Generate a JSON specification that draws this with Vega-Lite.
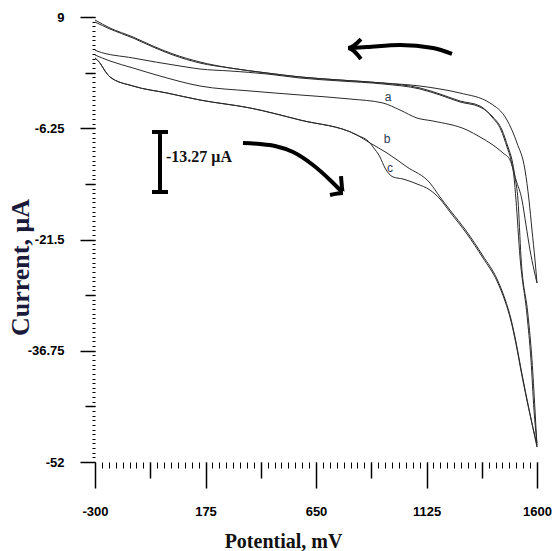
{
  "$schema": "https://vega.github.io/schema/vega-lite/v6.json",
  "width": 442,
  "height": 445,
  "autosize": {"type": "none"},
  "padding": {"left": 95, "top": 17, "right": 17, "bottom": 89},
  "background": "white",
  "config": {"view": {"stroke": null}},
  "resolve": {"axis": {"x": "independent", "y": "independent"}},
  "datasets": {
    "curves": [
      {"s":"a_fwd","i":1,"x":-300,"y":3.79},{"s":"a_fwd","i":2,"x":-235.5,"y":2.97},{"s":"a_fwd","i":3,"x":-136.7,"y":2.01},{"s":"a_fwd","i":4,"x":-20.6,"y":0.91},{"s":"a_fwd","i":5,"x":151.4,"y":-0.46},{"s":"a_fwd","i":6,"x":366.3,"y":-1.14},{"s":"a_fwd","i":7,"x":581.2,"y":-1.69},{"s":"a_fwd","i":8,"x":796.1,"y":-2.24},{"s":"a_fwd","i":9,"x":938.0,"y":-2.79},{"s":"a_fwd","i":10,"x":1011.1,"y":-3.75},{"s":"a_fwd","i":11,"x":1084.2,"y":-4.85},{"s":"a_fwd","i":12,"x":1152.9,"y":-5.26},{"s":"a_fwd","i":13,"x":1299.1,"y":-6.49},{"s":"a_fwd","i":14,"x":1355.0,"y":-7.45},{"s":"a_fwd","i":15,"x":1410.8,"y":-8.55},{"s":"a_fwd","i":16,"x":1453.8,"y":-9.64},{"s":"a_fwd","i":17,"x":1483.9,"y":-10.6},{"s":"a_fwd","i":18,"x":1509.7,"y":-13.34},{"s":"a_fwd","i":19,"x":1535.5,"y":-16.09},{"s":"a_fwd","i":20,"x":1552.7,"y":-19.51},{"s":"a_fwd","i":21,"x":1569.9,"y":-22.94},{"s":"a_fwd","i":22,"x":1587.1,"y":-25.68},{"s":"a_fwd","i":23,"x":1600,"y":-27.46},
      {"s":"a_rev","i":1,"x":1600,"y":-27.46},{"s":"a_rev","i":2,"x":1591.4,"y":-24.31},{"s":"a_rev","i":3,"x":1578.5,"y":-20.2},{"s":"a_rev","i":4,"x":1565.6,"y":-16.09},{"s":"a_rev","i":5,"x":1548.4,"y":-11.97},{"s":"a_rev","i":6,"x":1514.0,"y":-8.27},{"s":"a_rev","i":7,"x":1471.0,"y":-5.12},{"s":"a_rev","i":8,"x":1397.9,"y":-2.79},{"s":"a_rev","i":9,"x":1269.0,"y":-1.42},{"s":"a_rev","i":10,"x":1183.0,"y":-0.87},{"s":"a_rev","i":11,"x":1097.0,"y":-0.46},{"s":"a_rev","i":12,"x":938.0,"y":-0.05},{"s":"a_rev","i":13,"x":753.2,"y":0.36},{"s":"a_rev","i":14,"x":581.2,"y":0.78},{"s":"a_rev","i":15,"x":439.4,"y":1.32},{"s":"a_rev","i":16,"x":280.3,"y":2.01},{"s":"a_rev","i":17,"x":151.4,"y":2.83},{"s":"a_rev","i":18,"x":35.3,"y":3.93},{"s":"a_rev","i":19,"x":-50.7,"y":5.02},{"s":"a_rev","i":20,"x":-136.7,"y":6.26},{"s":"a_rev","i":21,"x":-235.5,"y":7.49},{"s":"a_rev","i":22,"x":-300,"y":8.59},
      {"s":"b_fwd","i":1,"x":-300,"y":3.38},{"s":"b_fwd","i":2,"x":-278.5,"y":2.69},{"s":"b_fwd","i":3,"x":-257.0,"y":1.6},{"s":"b_fwd","i":4,"x":-235.5,"y":0.78},{"s":"b_fwd","i":5,"x":-136.7,"y":-0.46},{"s":"b_fwd","i":6,"x":9.5,"y":-1.42},{"s":"b_fwd","i":7,"x":151.4,"y":-2.38},{"s":"b_fwd","i":8,"x":366.3,"y":-3.47},{"s":"b_fwd","i":9,"x":581.2,"y":-5.12},{"s":"b_fwd","i":10,"x":826.2,"y":-7.18},{"s":"b_fwd","i":11,"x":882.1,"y":-8.27},{"s":"b_fwd","i":12,"x":955.2,"y":-9.64},{"s":"b_fwd","i":13,"x":1041.2,"y":-11.56},{"s":"b_fwd","i":14,"x":1140.0,"y":-13.76},{"s":"b_fwd","i":15,"x":1183.0,"y":-15.67},{"s":"b_fwd","i":16,"x":1226.0,"y":-17.46},{"s":"b_fwd","i":17,"x":1299.1,"y":-20.47},{"s":"b_fwd","i":18,"x":1367.9,"y":-23.76},{"s":"b_fwd","i":19,"x":1428.0,"y":-26.91},{"s":"b_fwd","i":20,"x":1462.4,"y":-29.66},{"s":"b_fwd","i":21,"x":1488.2,"y":-32.4},{"s":"b_fwd","i":22,"x":1509.7,"y":-35.55},{"s":"b_fwd","i":23,"x":1535.5,"y":-39.94},{"s":"b_fwd","i":24,"x":1565.6,"y":-44.74},{"s":"b_fwd","i":25,"x":1600,"y":-49.95},
      {"s":"c_fwd","i":1,"x":-300,"y":3.38},{"s":"c_fwd","i":2,"x":-278.5,"y":2.69},{"s":"c_fwd","i":3,"x":-257.0,"y":1.6},{"s":"c_fwd","i":4,"x":-235.5,"y":0.78},{"s":"c_fwd","i":5,"x":-136.7,"y":-0.46},{"s":"c_fwd","i":6,"x":9.5,"y":-1.42},{"s":"c_fwd","i":7,"x":151.4,"y":-2.38},{"s":"c_fwd","i":8,"x":366.3,"y":-3.47},{"s":"c_fwd","i":9,"x":581.2,"y":-5.12},{"s":"c_fwd","i":10,"x":826.2,"y":-7.18},{"s":"c_fwd","i":11,"x":882.1,"y":-8.27},{"s":"c_fwd","i":12,"x":895.0,"y":-8.82},{"s":"c_fwd","i":13,"x":925.1,"y":-10.19},{"s":"c_fwd","i":14,"x":946.6,"y":-11.7},{"s":"c_fwd","i":15,"x":981.0,"y":-12.93},{"s":"c_fwd","i":16,"x":1024.0,"y":-13.21},{"s":"c_fwd","i":17,"x":1084.2,"y":-13.89},{"s":"c_fwd","i":18,"x":1140.0,"y":-14.72},{"s":"c_fwd","i":19,"x":1183.0,"y":-15.95},{"s":"c_fwd","i":20,"x":1226.0,"y":-17.73},{"s":"c_fwd","i":21,"x":1299.1,"y":-20.75},{"s":"c_fwd","i":22,"x":1367.9,"y":-24.04},{"s":"c_fwd","i":23,"x":1428.0,"y":-27.19},{"s":"c_fwd","i":24,"x":1462.4,"y":-29.93},{"s":"c_fwd","i":25,"x":1488.2,"y":-32.67},{"s":"c_fwd","i":26,"x":1509.7,"y":-35.83},{"s":"c_fwd","i":27,"x":1535.5,"y":-40.21},{"s":"c_fwd","i":28,"x":1565.6,"y":-44.87},{"s":"c_fwd","i":29,"x":1600,"y":-49.67},
      {"s":"b_rev","i":1,"x":1600,"y":-49.95},{"s":"b_rev","i":2,"x":1591.4,"y":-44.87},{"s":"b_rev","i":3,"x":1578.5,"y":-38.02},{"s":"b_rev","i":4,"x":1561.3,"y":-31.85},{"s":"b_rev","i":5,"x":1531.2,"y":-23.9},{"s":"b_rev","i":6,"x":1518.3,"y":-16.09},{"s":"b_rev","i":7,"x":1505.4,"y":-12.93},{"s":"b_rev","i":8,"x":1492.5,"y":-10.6},{"s":"b_rev","i":9,"x":1475.3,"y":-8.82},{"s":"b_rev","i":10,"x":1449.5,"y":-6.49},{"s":"b_rev","i":11,"x":1410.8,"y":-4.71},{"s":"b_rev","i":12,"x":1355.0,"y":-3.34},{"s":"b_rev","i":13,"x":1269.0,"y":-2.65},{"s":"b_rev","i":14,"x":1183.0,"y":-1.69},{"s":"b_rev","i":15,"x":1097.0,"y":-0.87},{"s":"b_rev","i":16,"x":938.0,"y":-0.18},{"s":"b_rev","i":17,"x":753.2,"y":0.23},{"s":"b_rev","i":18,"x":581.2,"y":0.64},{"s":"b_rev","i":19,"x":439.4,"y":1.19},{"s":"b_rev","i":20,"x":280.3,"y":1.6},{"s":"b_rev","i":21,"x":151.4,"y":1.87},{"s":"b_rev","i":22,"x":65.4,"y":2.28},{"s":"b_rev","i":23,"x":-136.7,"y":3.38},{"s":"b_rev","i":24,"x":-291.4,"y":4.34},{"s":"b_rev","i":25,"x":-300,"y":4.48},
      {"s":"c_rev","i":1,"x":1600,"y":-49.4},{"s":"c_rev","i":2,"x":1587.1,"y":-44.87},{"s":"c_rev","i":3,"x":1574.2,"y":-38.02},{"s":"c_rev","i":4,"x":1557.0,"y":-31.85},{"s":"c_rev","i":5,"x":1526.9,"y":-23.9},{"s":"c_rev","i":6,"x":1509.7,"y":-16.09},{"s":"c_rev","i":7,"x":1501.1,"y":-12.93},{"s":"c_rev","i":8,"x":1488.2,"y":-10.6},{"s":"c_rev","i":9,"x":1471.0,"y":-8.82},{"s":"c_rev","i":10,"x":1445.2,"y":-6.49},{"s":"c_rev","i":11,"x":1406.5,"y":-4.71},{"s":"c_rev","i":12,"x":1355.0,"y":-3.2},{"s":"c_rev","i":13,"x":1269.0,"y":-2.51},{"s":"c_rev","i":14,"x":1183.0,"y":-1.56},{"s":"c_rev","i":15,"x":1097.0,"y":-0.73},{"s":"c_rev","i":16,"x":938.0,"y":-0.05},{"s":"c_rev","i":17,"x":753.2,"y":0.36},{"s":"c_rev","i":18,"x":581.2,"y":0.78},{"s":"c_rev","i":19,"x":439.4,"y":1.32},{"s":"c_rev","i":20,"x":280.3,"y":2.01},{"s":"c_rev","i":21,"x":151.4,"y":2.69},{"s":"c_rev","i":22,"x":35.3,"y":3.79},{"s":"c_rev","i":23,"x":-50.7,"y":4.89},{"s":"c_rev","i":24,"x":-136.7,"y":6.12},{"s":"c_rev","i":25,"x":-235.5,"y":7.35},{"s":"c_rev","i":26,"x":-300,"y":8.31}
    ],
    "arrows": [
      {"p":"top_body","i":1,"x":1234.6,"y":3.93},{"p":"top_body","i":2,"x":1152.9,"y":4.75},{"p":"top_body","i":3,"x":1011.1,"y":5.16},{"p":"top_body","i":4,"x":869.2,"y":4.89},{"p":"top_body","i":5,"x":796.1,"y":4.75},
      {"p":"top_head","i":1,"x":843.4,"y":5.98},{"p":"top_head","i":2,"x":787.5,"y":4.75},{"p":"top_head","i":3,"x":843.4,"y":3.24},
      {"p":"low_body","i":1,"x":336.2,"y":-8.27},{"p":"low_body","i":2,"x":409.3,"y":-8.41},{"p":"low_body","i":3,"x":473.7,"y":-8.68},{"p":"low_body","i":4,"x":551.1,"y":-9.51},{"p":"low_body","i":5,"x":637.1,"y":-11.29},{"p":"low_body","i":6,"x":710.2,"y":-13.34},{"p":"low_body","i":7,"x":761.8,"y":-14.99},
      {"p":"low_head","i":1,"x":757.5,"y":-12.8},{"p":"low_head","i":2,"x":766.1,"y":-15.13},{"p":"low_head","i":3,"x":710.2,"y":-15.4}
    ],
    "bar": [
      {"x":-20.6,"y":-6.76,"x2":-20.6,"y2":-14.99},
      {"x":-55.0,"y":-6.76,"x2":13.8,"y2":-6.76},
      {"x":-55.0,"y":-14.99,"x2":13.8,"y2":-14.99}
    ],
    "letters": [
      {"t":"a","x":959.5,"y":-1.97},
      {"t":"b","x":955.2,"y":-7.72},
      {"t":"c","x":968.1,"y":-11.7}
    ],
    "note": [
      {"t":"-13.27 μA","x":5.2,"y":-10.19}
    ]
  },
  "layer": [
    {
      "data": {"name": "curves"},
      "mark": {"type": "line", "color": "#2a2a2a", "strokeWidth": 1, "interpolate": "monotone"},
      "encoding": {
        "x": {
          "field": "x", "type": "quantitative",
          "scale": {"domain": [-300, 1600], "nice": false, "zero": false},
          "axis": {
            "orient": "bottom",
            "title": "Potential, mV",
            "values": [-300, 175, 650, 1125, 1600],
            "domain": false, "grid": false,
            "tickColor": "#000", "tickWidth": 1.5, "tickSize": 26,
            "labelExpr": "'' + datum.value",
            "labelOverlap": false, "labelFlush": false, "labelBound": false,
            "labelFont": "Liberation Sans", "labelFontWeight": "bold", "labelFontSize": 13, "labelColor": "#000",
            "labelPadding": 17,
            "titleFont": "Liberation Serif", "titleFontWeight": "bold", "titleFontSize": 20, "titleColor": "#111",
            "titleX": 188, "titleY": 79, "titleBaseline": "middle", "titleAlign": "center"
          }
        },
        "y": {
          "field": "y", "type": "quantitative",
          "scale": {"domain": [-52, 9], "nice": false, "zero": false},
          "axis": {
            "orient": "left",
            "title": "Current, μA",
            "values": [-52, -36.75, -21.5, -6.25, 9],
            "domain": false, "grid": false,
            "tickColor": "#000", "tickWidth": 1.5, "tickSize": 15,
            "labelExpr": "'' + datum.value",
            "labelOverlap": false, "labelFlush": false, "labelBound": false,
            "labelFont": "Liberation Sans", "labelFontWeight": "bold", "labelFontSize": 13, "labelColor": "#000",
            "labelPadding": 16,
            "titleFont": "Liberation Serif", "titleFontWeight": "bold", "titleFontSize": 26, "titleColor": "#1a1a3a",
            "titleX": -75, "titleY": 250, "titleBaseline": "middle", "titleAlign": "center", "titleAngle": -90
          }
        },
        "detail": {"field": "s"},
        "order": {"field": "i", "type": "quantitative"}
      }
    },
    {
      "data": {"name": "arrows"},
      "mark": {"type": "line", "color": "#000", "strokeWidth": 4, "interpolate": "monotone", "strokeCap": "butt", "strokeJoin": "miter"},
      "encoding": {
        "x": {"field": "x", "type": "quantitative", "axis": {"orient": "bottom", "values": [-62.5, 412.5, 887.5, 1362.5], "domain": false, "grid": false, "labels": false, "title": null, "tickColor": "#000", "tickWidth": 1.5, "tickSize": 16}},
        "y": {"field": "y", "type": "quantitative", "axis": {"orient": "left", "values": [-44.375, -29.125, -13.875, 1.375], "domain": false, "grid": false, "labels": false, "title": null, "tickColor": "#000", "tickWidth": 1.5, "tickSize": 10}},
        "detail": {"field": "p"},
        "order": {"field": "i", "type": "quantitative"}
      }
    },
    {
      "data": {"name": "bar"},
      "mark": {"type": "rule", "color": "#000", "strokeWidth": 4},
      "encoding": {
        "x": {"field": "x", "type": "quantitative", "axis": {"orient": "bottom", "values": [-300,-270.3125,-240.625,-210.9375,-181.25,-151.5625,-121.875,-92.1875,-62.5,-32.8125,-3.125,26.5625,56.25,85.9375,115.625,145.3125,175,204.6875,234.375,264.0625,293.75,323.4375,353.125,382.8125,412.5,442.1875,471.875,501.5625,531.25,560.9375,590.625,620.3125,650,679.6875,709.375,739.0625,768.75,798.4375,828.125,857.8125,887.5,917.1875,946.875,976.5625,1006.25,1035.9375,1065.625,1095.3125,1125,1154.6875,1184.375,1214.0625,1243.75,1273.4375,1303.125,1332.8125,1362.5,1392.1875,1421.875,1451.5625,1481.25,1510.9375,1540.625,1570.3125,1600], "domain": false, "grid": false, "labels": false, "title": null, "tickColor": "#000", "tickWidth": 1, "tickSize": 6}},
        "y": {"field": "y", "type": "quantitative", "axis": {"orient": "left", "values": [-52,-51.3646,-50.7292,-50.0938,-49.4583,-48.8229,-48.1875,-47.5521,-46.9167,-46.2813,-45.6458,-45.0104,-44.375,-43.7396,-43.1042,-42.4688,-41.8333,-41.1979,-40.5625,-39.9271,-39.2917,-38.6563,-38.0208,-37.3854,-36.75,-36.1146,-35.4792,-34.8438,-34.2083,-33.5729,-32.9375,-32.3021,-31.6667,-31.0313,-30.3958,-29.7604,-29.125,-28.4896,-27.8542,-27.2188,-26.5833,-25.9479,-25.3125,-24.6771,-24.0417,-23.4063,-22.7708,-22.1354,-21.5,-20.8646,-20.2292,-19.5938,-18.9583,-18.3229,-17.6875,-17.0521,-16.4167,-15.7813,-15.1458,-14.5104,-13.875,-13.2396,-12.6042,-11.9688,-11.3333,-10.6979,-10.0625,-9.4271,-8.7917,-8.1563,-7.5208,-6.8854,-6.25,-5.6146,-4.9792,-4.3438,-3.7083,-3.0729,-2.4375,-1.8021,-1.1667,-0.5313,0.1042,0.7396,1.375,2.0104,2.6458,3.2813,3.9167,4.5521,5.1875,5.8229,6.4583,7.0938,7.7292,8.3646,9], "domain": false, "grid": false, "labels": false, "title": null, "tickColor": "#000", "tickWidth": 1, "tickSize": 3}},
        "x2": {"field": "x2"},
        "y2": {"field": "y2"}
      }
    },
    {
      "data": {"name": "letters"},
      "mark": {"type": "text", "font": "Liberation Sans", "fontSize": 12, "color": "#2b3a55", "align": "center", "baseline": "middle"},
      "encoding": {
        "x": {"field": "x", "type": "quantitative", "axis": null},
        "y": {"field": "y", "type": "quantitative", "axis": null},
        "text": {"field": "t"}
      }
    },
    {
      "data": {"name": "note"},
      "mark": {"type": "text", "font": "Liberation Serif", "fontWeight": "bold", "fontSize": 16, "color": "#111", "align": "left", "baseline": "middle"},
      "encoding": {
        "x": {"field": "x", "type": "quantitative", "axis": null},
        "y": {"field": "y", "type": "quantitative", "axis": null},
        "text": {"field": "t"}
      }
    }
  ]
}
